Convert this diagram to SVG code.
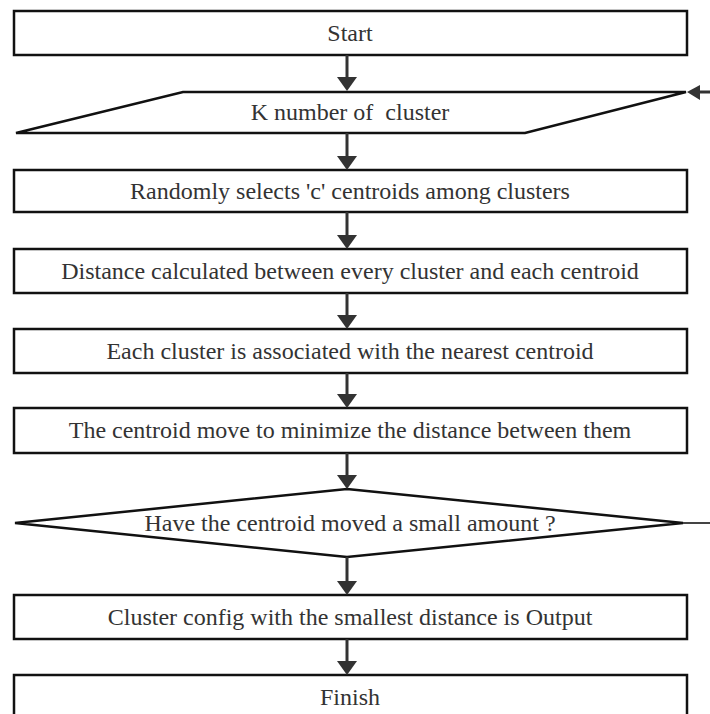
<svg xmlns="http://www.w3.org/2000/svg" width="710" height="714" viewBox="0 0 710 714">
<style>
.box{fill:#fff;stroke:#111;stroke-width:2.5}
.t{font-family:"Liberation Serif","Times New Roman",serif;font-size:24px;fill:#333;text-anchor:middle}
.ln{stroke:#333;stroke-width:3;fill:none}
.hd{fill:#333;stroke:none}
.fb{stroke:#444;stroke-width:2;fill:none}
</style>
<rect width="710" height="714" fill="#fff"/>
<g id="start"><rect class="box" x="14" y="11" width="673" height="44"/><text class="t" x="350" y="41">Start</text></g>
<g id="k"><polygon class="box" points="183,92 686,92 525,133 16,133"/><text class="t" x="350" y="120" xml:space="preserve">K number of  cluster</text></g>
<g id="random"><rect class="box" x="14" y="170" width="673" height="42"/><text class="t" x="350" y="199">Randomly selects 'c' centroids among clusters</text></g>
<g id="distance"><rect class="box" x="14" y="249" width="673" height="44"/><text class="t" x="350" y="279">Distance calculated between every cluster and each centroid</text></g>
<g id="assoc"><rect class="box" x="14" y="329" width="673" height="44"/><text class="t" x="350" y="359">Each cluster is associated with the nearest centroid</text></g>
<g id="move"><rect class="box" x="14" y="408" width="673" height="45"/><text class="t" x="350" y="438">The centroid move to minimize the distance between them</text></g>
<g id="decision"><polygon class="box" points="347,489 683,523 347,557 15,523"/><text class="t" x="350" y="531">Have the centroid moved a small amount ?</text></g>
<g id="output"><rect class="box" x="14" y="595" width="673" height="44"/><text class="t" x="350" y="625">Cluster config with the smallest distance is Output</text></g>
<g id="finish"><rect class="box" x="14" y="675" width="673" height="50"/><text class="t" x="350" y="705">Finish</text></g>
<g id="connectors">
<line class="ln" x1="347" y1="55" x2="347" y2="78"/><polygon class="hd" points="337,77 357,77 347,91"/>
<line class="ln" x1="347" y1="133" x2="347" y2="157"/><polygon class="hd" points="337,156 357,156 347,170"/>
<line class="ln" x1="347" y1="212" x2="347" y2="236"/><polygon class="hd" points="337,235 357,235 347,249"/>
<line class="ln" x1="347" y1="293" x2="347" y2="316"/><polygon class="hd" points="337,315 357,315 347,329"/>
<line class="ln" x1="347" y1="373" x2="347" y2="395"/><polygon class="hd" points="337,394 357,394 347,408"/>
<line class="ln" x1="347" y1="453" x2="347" y2="476"/><polygon class="hd" points="337,475 357,475 347,489"/>
<line class="ln" x1="347" y1="557" x2="347" y2="582"/><polygon class="hd" points="337,581 357,581 347,595"/>
<line class="ln" x1="347" y1="639" x2="347" y2="662"/><polygon class="hd" points="337,661 357,661 347,675"/>
<line class="fb" x1="683" y1="523" x2="710" y2="523"/>
<line class="ln" x1="699" y1="92" x2="710" y2="92"/><polygon class="hd" points="700,85 700,100 687,92"/>
</g>
</svg>
